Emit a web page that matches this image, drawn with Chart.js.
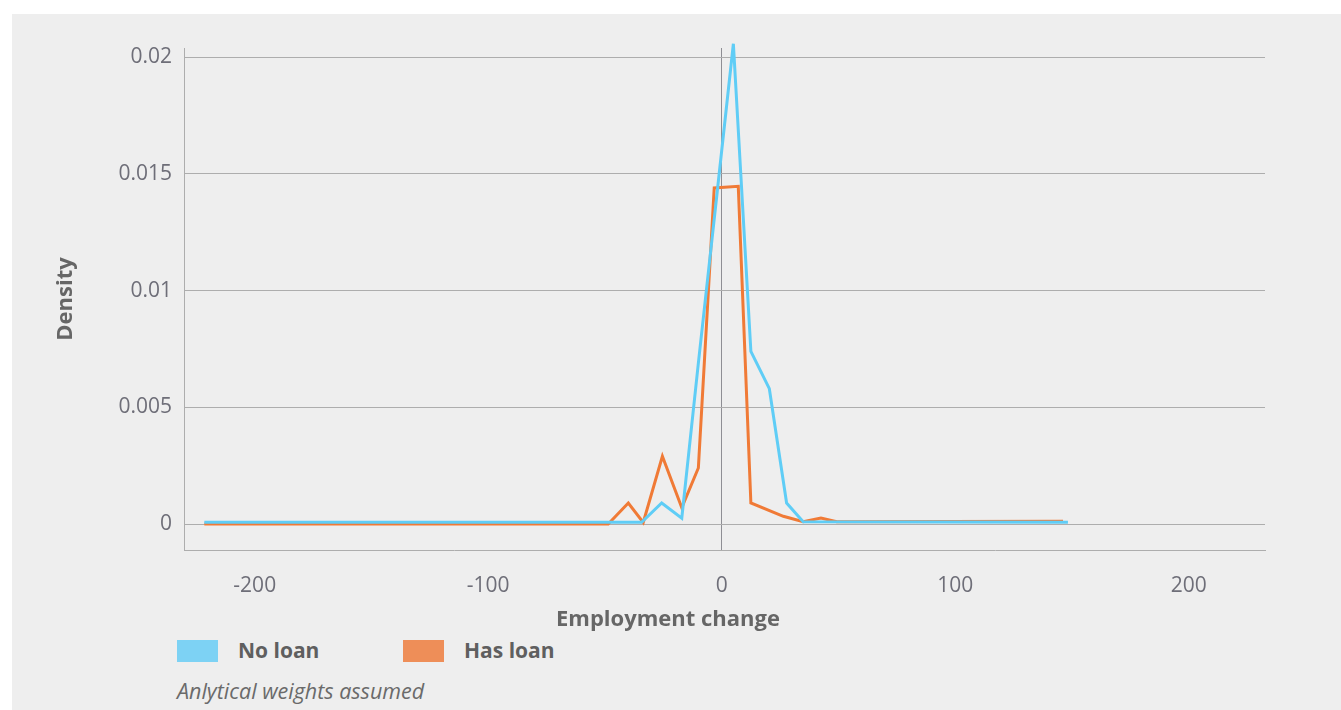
<!DOCTYPE html>
<html>
<head>
<meta charset="utf-8">
<script src="https://cdn.jsdelivr.net/npm/chart.js@4.4.0/dist/chart.umd.min.js"></script>
<style>
  body { margin: 0; background: #ffffff; font-family: "Open Sans", sans-serif; }
  .panel { position: absolute; left: 12px; top: 14px; width: 1329px; height: 696px; background: #eeeeee; }
  .chart-box { position: absolute; left: 0; top: 0; width: 1329px; height: 620px; }
  .x-title { position: absolute; left: 0; width: 1312px; top: 588px; text-align: center;
             font-weight: 700; font-size: 22px; color: #666666; }
  .legend { position: absolute; top: 626px; left: 165px; }
  .legend .item { position: absolute; top: 0; white-space: nowrap; }
  .legend .swatch { position: absolute; left: 0; top: 0; width: 41px; height: 22px; }
  .legend .label { position: absolute; left: 61px; top: -4px; font-weight: 700; font-size: 21px; color: #5f5f5f; }
  .note { position: absolute; left: 165px; top: 662px; font-style: italic; font-size: 21.5px; color: #6a6a6a; }
</style>
</head>
<body>
<div class="panel">
  <div class="chart-box"><canvas id="density"></canvas></div>
  <div class="x-title">Employment change</div>
  <div class="legend" id="legend"></div>
  <div class="note">Anlytical weights assumed</div>
</div>
<script>
// values
const xTicks = [-200, -100, 0, 100, 200];
const yTicks = [0, 0.005, 0.01, 0.015, 0.02];

const seriesNames = ['No loan', 'Has loan'];
const lineColors = ['#5fcdf6', '#f07a36'];
const legendColors = ['#7dd2f4', '#ee8e58'];

const noLoanX = [-221.6, -34.3, -25.7, -17.1, -10.1, -2.4, 5.0, 12.5, 20.4, 27.8, 34.9, 148.3];
const noLoanY = [0.00007, 0.00007, 0.0009, 0.00025, 0.0068, 0.0138, 0.02058, 0.0074, 0.0058, 0.0009, 0.0001, 0.00008];

const hasLoanX = [-221.6, -48.6, -40.0, -33.6, -25.4, -17.1, -10.0, -3.2, 7.1, 12.5, 26.4, 34.9, 42.5, 49.3, 146.2];
const hasLoanY = [0, 0, 0.0009, 0.00007, 0.0029, 0.0007, 0.0024, 0.0144, 0.01447, 0.0009, 0.00033, 0.0001, 0.00026, 0.0001, 0.00012];

const toPoints = (xs, ys) => xs.map((x, i) => ({ x: x, y: ys[i] }));

// legend in html, built from the series names/colours
const legend = document.getElementById('legend');
const legendLeft = [0, 226];
seriesNames.forEach((name, i) => {
  const item = document.createElement('div');
  item.className = 'item';
  item.style.left = legendLeft[i] + 'px';
  item.innerHTML = `<span class="swatch" style="background:${legendColors[i]}"></span><span class="label">${name}</span>`;
  legend.appendChild(item);
});

const ctx = document.getElementById('density');

new Chart(ctx, {
  type: 'line',
  data: {
    datasets: [{
      label: seriesNames[0],
      data: toPoints(noLoanX, noLoanY),
      borderColor: lineColors[0],
      borderWidth: 3,
      pointRadius: 0,
      tension: 0,
      clip: false
    },
    {
      label: seriesNames[1],
      data: toPoints(hasLoanX, hasLoanY),
      borderColor: lineColors[1],
      borderWidth: 3,
      pointRadius: 0,
      tension: 0,
      clip: false
    }]
  },
  options: {
    responsive: true,
    maintainAspectRatio: false,
    animation: false,
    layout: {
      padding: { top: 34, right: 76, left: 0, bottom: 0 }
    },
    scales: {
      x: {
        type: 'linear',
        min: -230.3,
        max: 232.7,
        afterBuildTicks: scale => { scale.ticks = xTicks.map(v => ({ value: v })); },
        afterFit: scale => { scale.height = 84; },
        border: { display: true, color: '#adadad', width: 1 },
        grid: {
          drawTicks: false,
          color: c => (c.tick && c.tick.value === 0) ? '#8e8e94' : 'rgba(0,0,0,0)'
        },
        ticks: {
          padding: 23,
          color: '#6e6e78',
          font: { family: 'Open Sans', size: 21 },
          maxRotation: 0,
          callback: v => String(v)
        }
      },
      y: {
        type: 'linear',
        min: -0.001114,
        max: 0.020399,
        afterBuildTicks: scale => { scale.ticks = yTicks.map(v => ({ value: v })); },
        afterFit: scale => { scale.width = 172; },
        border: { display: true, color: '#adadad', width: 1 },
        grid: { drawTicks: false, color: '#adadad' },
        ticks: {
          padding: 12,
          color: '#6e6e78',
          font: { family: 'Open Sans', size: 21 },
          callback: v => String(v)
        },
        title: {
          display: true,
          text: 'Density',
          color: '#666666',
          font: { family: 'Open Sans', size: 22, weight: 'bold' },
          padding: { top: 41, bottom: 0 }
        }
      }
    },
    plugins: {
      legend: { display: false },
      tooltip: { enabled: false }
    }
  }
});
</script>
</body>
</html>
